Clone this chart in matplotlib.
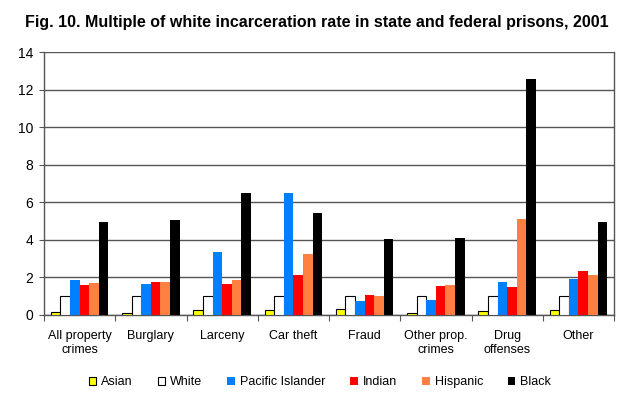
import matplotlib
matplotlib.use("Agg")
import matplotlib.pyplot as plt
import numpy as np

plt.rcParams['font.family'] = ['Liberation Sans', 'DejaVu Sans']

categories = ["All property\ncrimes", "Burglary", "Larceny", "Car theft", "Fraud",
              "Other prop.\ncrimes", "Drug\noffenses", "Other"]
series_names = ["Asian", "White", "Pacific Islander", "Indian", "Hispanic", "Black"]
asian = [0.18, 0.09, 0.25, 0.28, 0.34, 0.11, 0.20, 0.25]
white = [1.0, 1.0, 1.0, 1.0, 1.0, 1.0, 1.0, 1.0]
pacific = [1.88, 1.65, 3.36, 6.52, 0.75, 0.80, 1.76, 1.94]
indian = [1.60, 1.78, 1.65, 2.13, 1.07, 1.55, 1.49, 2.36]
hispanic = [1.70, 1.74, 1.88, 3.27, 1.01, 1.60, 5.12, 2.13]
black = [4.97, 5.04, 6.52, 5.42, 4.05, 4.12, 12.58, 4.97]
values = [asian, white, pacific, indian, hispanic, black]
colors = ["#FFFF00", "#FFFFFF", "#0080FF", "#FF0000", "#FF8040", "#000000"]
edges = ["#000000", "#000000", "none", "none", "none", "none"]

fig = plt.figure(figsize=(6.42, 4.03), dpi=100)
ax = fig.add_axes([44/642, 1-315/403, (614-44)/642, (315-52)/403])

x = np.arange(len(categories))
w = 0.135
for i, (name, vals) in enumerate(zip(series_names, values)):
    off = (i - 2.5) * w
    ax.bar(x + off, vals, width=w, color=colors[i], edgecolor=edges[i],
           linewidth=0.8 if edges[i] != "none" else 0, label=name, zorder=3)

ax.set_xlim(-0.5, len(categories) - 0.5)
ax.set_ylim(0, 14)
ax.set_yticks(np.arange(0, 15, 2))
ax.yaxis.grid(True, color="#555555", linewidth=1.0, zorder=0)
ax.set_axisbelow(True)
ax.set_xticks(np.arange(-0.5, len(categories), 1.0), minor=False)
ax.set_xticklabels([])
ax.set_xticks(x, minor=True)
ax.set_xticklabels(categories, minor=True, fontsize=9)
ax.tick_params(axis='x', which='minor', length=0, pad=11)
ax.tick_params(axis='x', which='major', length=4, color="#555555")
ax.tick_params(axis='y', length=3.6, color="#555555", labelsize=10, pad=4)
for s in ["left", "bottom", "right", "top"]:
    ax.spines[s].set_color("#555555")
    ax.spines[s].set_linewidth(1.0)
ax.spines["top"].set_visible(False)

fig.text(316.5 / 642, 1 - 23/403,
         "Fig. 10. Multiple of white incarceration rate in state and federal prisons, 2001",
         ha="center", va="center", fontsize=11.5, fontweight="bold")

fig.legend(loc="center", bbox_to_anchor=(320/642, 1 - 382/403), ncol=6, frameon=False,
           fontsize=9, handlelength=0.6, handleheight=0.6, handletextpad=0.4,
           columnspacing=2.0)

fig.savefig("out.png", dpi=100)
